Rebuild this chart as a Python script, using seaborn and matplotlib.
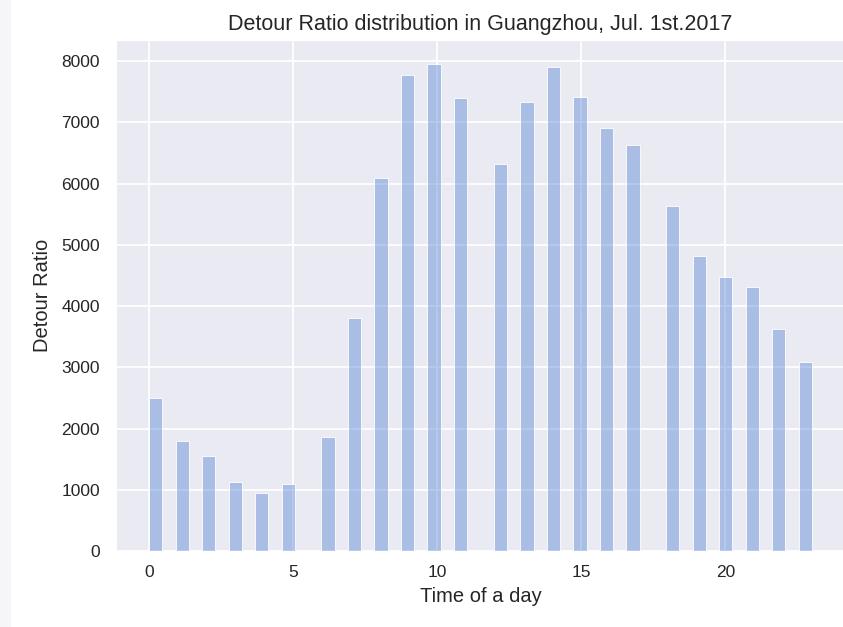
import matplotlib
matplotlib.use("Agg")
import matplotlib.pyplot as plt
import seaborn as sns
import pandas as pd
from matplotlib.patches import Rectangle

# Hour of day and the detour-ratio total recorded for each hour
hours = list(range(24))
detour_ratio = [2500, 1800, 1560, 1120, 950, 1100, 1870, 3810, 6100, 7770,
                7950, 7400, 6320, 7330, 7900, 7410, 6910, 6640, 5640, 4820,
                4470, 4320, 3620, 3080]

title = "Detour Ratio distribution in Guangzhou, Jul. 1st.2017"
x_label = "Time of a day"
y_label = "Detour Ratio"

sns.set_style("darkgrid", {"grid.linewidth": 1.3})
plt.rcParams["font.family"] = ["Liberation Sans", "DejaVu Sans"]

df = pd.DataFrame({"hour": hours, "ratio": detour_ratio})

fig = plt.figure(figsize=(8.43, 6.27), dpi=100)
fig.patch.set_facecolor("white")
# thin light strip along the left margin
fig.patches.append(Rectangle((0, 0), 11 / 843, 1, transform=fig.transFigure,
                             facecolor="#f6f6f8", edgecolor="none", zorder=0))

ax = fig.add_axes([116 / 843, 1 - 551 / 627, 729 / 843, 511 / 627])

sns.histplot(data=df, x="hour", weights="ratio", bins=50, binrange=(0, 23),
             color="#487ad2", alpha=0.4, edgecolor="white", linewidth=0.6,
             ax=ax)
ax.grid(True, color="white", linewidth=1.3)

ax.set_xlim(-1.15, 24.15)
ax.set_ylim(0, 8347.5)
ax.set_xticks([0, 5, 10, 15, 20])
ax.set_yticks(range(0, 8001, 1000))

ax.set_title(title, fontsize=15.5, color="#262626", pad=7)
ax.set_xlabel(x_label, fontsize=14.5, color="#262626", labelpad=5)
ax.set_ylabel(y_label, fontsize=14.5, color="#262626", labelpad=7)
ax.tick_params(axis="x", labelsize=12.5, pad=10, length=0, colors="#262626")
ax.tick_params(axis="y", labelsize=12.5, pad=11.5, length=0, colors="#262626")

fig.savefig("out.png", dpi=100)
